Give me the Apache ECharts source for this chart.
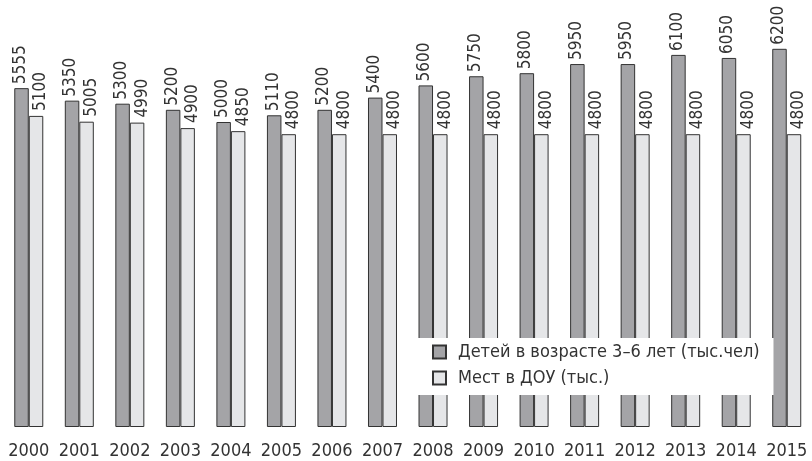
<!DOCTYPE html>
<html>
<head>
<meta charset="utf-8">
<script src="https://cdn.jsdelivr.net/npm/echarts@6/dist/echarts.min.js"></script>
<style>
  html, body { margin: 0; padding: 0; background: #fff; }
  #container { width: 812px; height: 461px; }
</style>
</head>
<body>
<div id="container"></div>
<script>
/* дети и места в ДОУ */
var years = ['2000','2001','2002','2003','2004','2005','2006','2007','2008','2009','2010','2011','2012','2013','2014','2015'];
var children = [5555, 5350, 5300, 5200, 5000, 5110, 5200, 5400, 5600, 5750, 5800, 5950, 5950, 6100, 6050, 6200];
var places = [5100, 5005, 4990, 4900, 4850, 4800, 4800, 4800, 4800, 4800, 4800, 4800, 4800, 4800, 4800, 4800];

var font = '"Liberation Sans Narrow", "DejaVu Sans Condensed", sans-serif';

var dom = document.getElementById("container");
var myChart = echarts.init(dom);
var option = null;

option = {
    animation: false,
    textStyle: { fontFamily: font },
    grid: {
        left: 3.5,
        right: -6.5,
        top: -1,
        bottom: 34
    },
    legend: {
        orient: 'vertical',
        left: 418,
        top: 338,
        padding: [5, 14, 8, 14],
        itemGap: 8,
        itemWidth: 13,
        itemHeight: 13,
        icon: 'rect',
        backgroundColor: '#fff',
        textStyle: {
            fontFamily: font,
            fontSize: 18,
            color: '#333',
            padding: [0, 0, 0, 7]
        },
        data: ['Детей в возрасте 3–6 лет (тыс.чел)', 'Мест в ДОУ (тыс.)']
    },
    xAxis: {
        type: 'category',
        data: years,
        axisLine: { show: false },
        axisTick: { show: false },
        axisLabel: {
            interval: 0,
            margin: 15,
            fontFamily: font,
            fontSize: 18,
            color: '#333'
        }
    },
    yAxis: {
        type: 'value',
        min: 0,
        max: 7000,
        show: false
    },
    series: [
        {
            name: 'Детей в возрасте 3–6 лет (тыс.чел)',
            type: 'bar',
            barWidth: 14.5,
            barGap: '0%',
            data: children,
            itemStyle: { color: '#a4a4a7', borderColor: '#333', borderWidth: 1 },
            label: {
                show: true,
                position: 'top',
                rotate: 90,
                align: 'left',
                verticalAlign: 'middle',
                distance: 4,
                offset: [0, -1],
                fontFamily: font,
                fontSize: 17,
                color: '#333'
            }
        },
        {
            name: 'Мест в ДОУ (тыс.)',
            type: 'bar',
            barWidth: 14.5,
            data: places,
            itemStyle: { color: '#e5e6e8', borderColor: '#333', borderWidth: 1 },
            label: {
                show: true,
                position: 'top',
                rotate: 90,
                align: 'left',
                verticalAlign: 'middle',
                distance: 5,
                offset: [0, 5],
                fontFamily: font,
                fontSize: 17,
                color: '#333'
            }
        }
    ]
};

if (option && typeof option === "object") {
    myChart.setOption(option, true);
}
</script>
</body>
</html>
